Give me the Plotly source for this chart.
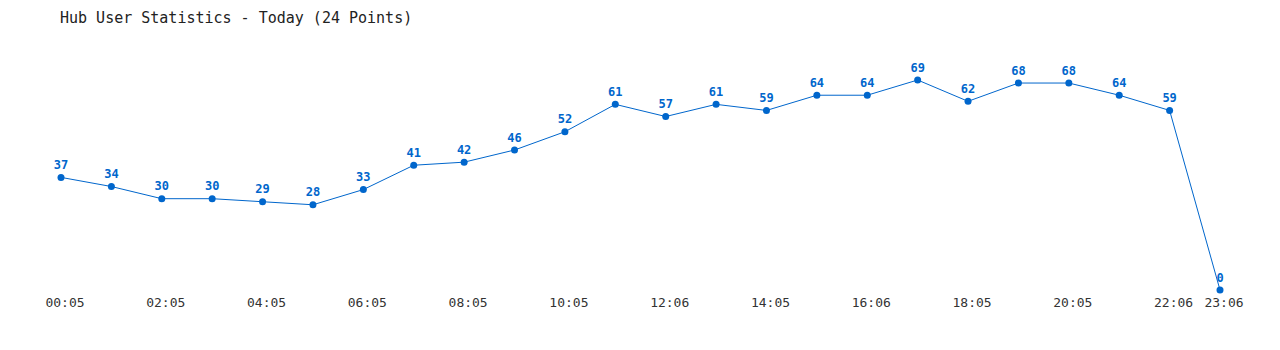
import plotly.graph_objects as go

times = ["00:05", "01:05", "02:05", "03:05", "04:05", "05:05", "06:05", "07:05",
         "08:05", "09:05", "10:05", "11:05", "12:06", "13:05", "14:05", "15:05",
         "16:06", "17:05", "18:05", "19:05", "20:05", "21:05", "22:06", "23:06"]
users = [37, 34, 30, 30, 29, 28, 33, 41, 42, 46, 52, 61, 57, 61, 59, 64, 64,
         69, 62, 68, 68, 64, 59, 0]
tick_labels = ["00:05", "02:05", "04:05", "06:05", "08:05", "10:05", "12:06",
               "14:05", "16:06", "18:05", "20:05", "22:06", "23:06"]

idx = list(range(len(times)))
tick_idx = [times.index(t) for t in tick_labels]

blue = "#0066CC"
fig = go.Figure()
fig.add_trace(go.Scatter(
    x=idx, y=users, mode="lines+markers+text",
    line=dict(color=blue, width=1),
    marker=dict(color=blue, size=7),
    text=[str(v) for v in users],
    textposition="top center",
    textfont=dict(family="DejaVu Sans Mono", size=12, color=blue, weight="bold"),
    cliponaxis=False,
    hoverinfo="x+y",
))
fig.update_layout(
    width=1280, height=350,
    margin=dict(l=61, r=60, t=80, b=60),
    paper_bgcolor="white", plot_bgcolor="white",
    showlegend=False,
    title=dict(text="Hub User Statistics - Today (24 Points)",
               x=60/1280, xanchor="left", y=1-18/350, yanchor="middle",
               font=dict(family="DejaVu Sans Mono", size=15, color="#222222")),
    xaxis=dict(range=[0, 23], tickvals=tick_idx, ticktext=tick_labels,
               showgrid=False, zeroline=False, showline=False, ticks="",
               ticklabelshift=4, ticklabelstandoff=3,
               tickfont=dict(family="DejaVu Sans Mono", size=13, color="#333333")),
    yaxis=dict(range=[0, 69], showgrid=False, zeroline=False, showline=False,
               showticklabels=False, ticks=""),
)
fig.write_html("out.html")
